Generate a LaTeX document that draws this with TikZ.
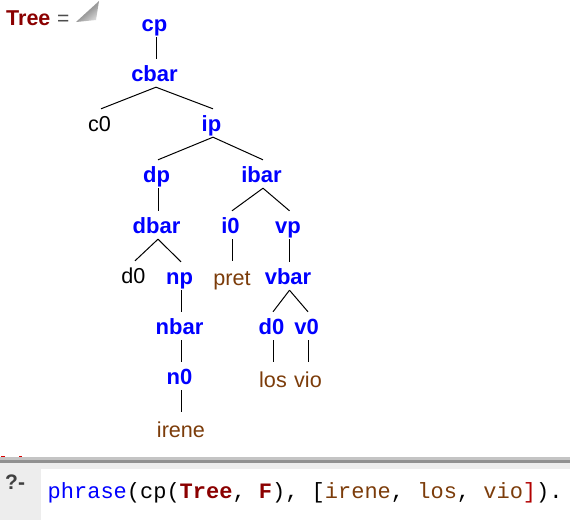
\documentclass[tikz,border=0pt]{standalone}
\usepackage{fontspec}
\setmainfont{Liberation Sans}
\setmonofont{Liberation Mono}
\usepackage{tikz}
\definecolor{termblue}{RGB}{0,0,255}
\definecolor{termred}{RGB}{139,0,0}
\definecolor{termbrown}{RGB}{124,60,10}
\tikzset{
	cat/.style={anchor=base, inner sep=0pt, text height=22pt, text depth=6pt, text=termblue, font=\fontsize{22}{22}\selectfont\bfseries, execute at end node={\hspace{3pt}}},
	leaf/.style={anchor=base, inner sep=0pt, text height=22pt, text depth=6pt, text=black, font=\fontsize{21.6}{22}\selectfont, execute at end node={\hspace{3pt}}},
	word/.style={anchor=base, inner sep=0pt, text height=24.5pt, text depth=6pt, text=termbrown, font=\fontsize{21.6}{22}\selectfont},
	code/.style={inner sep=0pt, anchor=base west, font=\fontsize{22}{22}\selectfont\ttfamily},
	edge/.style={line width=1pt, black}
}
\begin{document}
\begin{tikzpicture}[x=1pt, y=-1pt]
	\useasboundingbox (0,0) rectangle (570,520);
	\fill[white] (0,0) rectangle (570,520);
	% answer line
	\node[inner sep=0pt, anchor=base west, text=termred, font=\fontsize{21.5}{21}\selectfont\bfseries] (tree) at (6,25) {Tree};
	\node[inner sep=0pt, anchor=base west, text=black!70, font=\fontsize{21}{21}\selectfont] (eq) at (57,25) {=};
	\shade[top color=black!25, bottom color=black!15, middle color=black!40, shading angle=40] (76,22) -- (99,1) -- (96,20) -- cycle;
	% tree
	\node[cat] (cp) at (156,31) {cp};
	\node[cat] (cbar) at (156,81) {cbar};
	\node[leaf] (c0) at (101,131) {c0};
	\node[cat] (ip) at (213,131) {ip};
	\node[cat] (dp) at (158,182) {dp};
	\node[cat] (ibar) at (263,182) {ibar};
	\node[cat] (dbar) at (158,233) {dbar};
	\node[cat] (i0) at (232,233) {i0};
	\node[cat] (vp) at (289.5,233) {vp};
	\node[leaf] (d01) at (135,283) {d0};
	\node[cat] (np) at (181,284) {np};
	\node[word] (pret) at (232,285.5) {pret};
	\node[cat] (vbar) at (289.5,284) {vbar};
	\node[cat] (nbar) at (181,334) {nbar};
	\node[cat] (d02) at (273,334) {d0};
	\node[cat] (v0) at (308,334) {v0};
	\node[cat] (n0) at (181,384) {n0};
	\node[word] (los) at (273,387) {los};
	\node[word] (vio) at (308,387) {vio};
	\node[word] (irene) at (181,437) {irene};
	\draw[edge] (cp.south) -- (cbar.north);
	\draw[edge] (cbar.south) -- (c0.north);
	\draw[edge] (cbar.south) -- (ip.north);
	\draw[edge] (ip.south) -- (dp.north);
	\draw[edge] (ip.south) -- (ibar.north);
	\draw[edge] (dp.south) -- (dbar.north);
	\draw[edge] (dbar.south) -- (d01.north);
	\draw[edge] (dbar.south) -- (np.north);
	\draw[edge] (np.south) -- (nbar.north);
	\draw[edge] (nbar.south) -- (n0.north);
	\draw[edge] (n0.south) -- (irene.north);
	\draw[edge] (ibar.south) -- (i0.north);
	\draw[edge] (ibar.south) -- (vp.north);
	\draw[edge] (i0.south) -- (pret.north);
	\draw[edge] (vp.south) -- (vbar.north);
	\draw[edge] (vbar.south) -- (d02.north);
	\draw[edge] (vbar.south) -- (v0.north);
	\draw[edge] (d02.south) -- (los.north);
	\draw[edge] (v0.south) -- (vio.north);
	% query panel
	\fill[red!85!black] (1,456) rectangle (5,457);
	\fill[red!85!black] (19,456) rectangle (22,457);
	\fill[black!23] (0,457) rectangle (570,460);
	\fill[black!43] (0,460) rectangle (570,463);
	\fill[black!7] (0,463) rectangle (570,520);
	\fill[white] (41,469) rectangle (570,520);
	\node[inner sep=0pt, anchor=base west, text=black!75, font=\fontsize{21}{21}\selectfont\bfseries] (prompt) at (5,489) {?-};
	\node[code] (query) at (47.5,498) {\textcolor{termblue}{phrase}(cp(\textcolor{termred}{\textbf{Tree}}, \textcolor{termred}{\textbf{F}}), [\textcolor{termbrown}{irene}, \textcolor{termbrown}{los}, \textcolor{termbrown}{vio}\textcolor{red!70!black}{]}).};
\end{tikzpicture}
\end{document}
